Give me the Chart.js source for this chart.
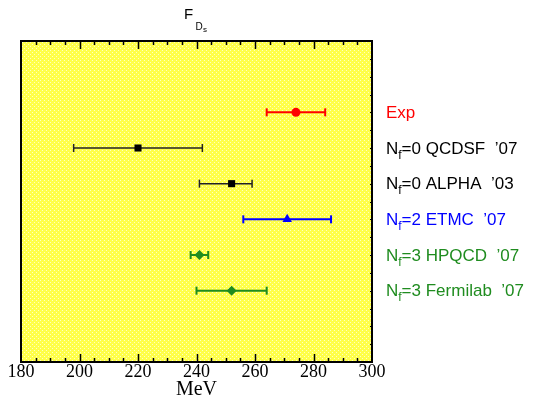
<!DOCTYPE html>
<html lang="en">
<head>
  <meta charset="UTF-8" />
  <title>F_Ds comparison</title>
  <script src="https://cdn.jsdelivr.net/npm/chart.js"></script>
  <style>
    body { margin: 0; background: #fff; }
    .wrap { width: 534px; height: 398px; }
  </style>
</head>
<body>
  <div class="wrap"><canvas id="fdsChart" width="534" height="398"></canvas></div>

<script>
  // values (MeV)
  const names = ['Exp', 'N_f=0 QCDSF  \u201907', 'N_f=0 ALPHA  \u201903', 'N_f=2 ETMC  \u201907', 'N_f=3 HPQCD  \u201907', 'N_f=3 Fermilab  \u201907'];
  const centers = [274, 220, 252, 271, 241, 252];
  const lows = [264, 198, 241, 256, 238, 240];
  const highs = [284, 242, 259, 286, 244, 264];
  const rows = [2, 3, 4, 5, 6, 7];
  const xTicks = [180, 200, 220, 240, 260, 280, 300];

  const colors = ['#ff0000', '#000000', '#000000', '#0000ff', '#1f8c1f', '#1f8c1f'];
  const markers = ['circle', 'rect', 'rect', 'triangle', 'rectRot', 'rectRot'];
  const markerSize = [4.5, 5, 5, 5.5, 5, 5];

  const datasets = [];
  names.forEach((n, i) => {
    datasets.push({
      label: n,
      data: [{ x: centers[i], y: rows[i] }],
      pointStyle: markers[i],
      pointRadius: markerSize[i],
      backgroundColor: colors[i],
      borderColor: colors[i],
      borderWidth: 0,
      showLine: false,
      order: 0
    });
    datasets.push({
      label: n + ' err',
      data: [{ x: lows[i], y: rows[i] }, { x: highs[i], y: rows[i] }],
      showLine: true,
      pointStyle: 'line',
      rotation: 90,
      pointRadius: 4,
      borderColor: colors[i] === '#000000' ? '#222' : colors[i],
      borderWidth: colors[i] === '#000000' ? 1.5 : 2,
      order: 1
    });
  });

  // dotted yellow fill like the original
  function makePattern(ctx) {
    const c = document.createElement('canvas');
    c.width = 4; c.height = 4;
    const p = c.getContext('2d');
    p.fillStyle = '#ffff48';
    p.fillRect(0, 0, 4, 4);
    p.fillStyle = '#ffffc0';
    p.fillRect(0, 0, 1, 1);
    p.fillRect(2, 2, 1, 1);
    return ctx.createPattern(c, 'repeat');
  }

  function drawSubText(ctx, str, x, y, size, color) {
    // "_f" means subscript f
    ctx.fillStyle = color;
    const parts = str.split(/_(\w)/);
    let cx = x;
    parts.forEach((part, k) => {
      if (!part) return;
      if (k % 2 === 1) {
        ctx.font = Math.round(size * 0.68) + 'px "Liberation Sans", Arial, sans-serif';
        ctx.fillText(part, cx, y + 5);
      } else {
        ctx.font = size + 'px "Liberation Sans", Arial, sans-serif';
        ctx.fillText(part, cx, y);
      }
      cx += ctx.measureText(part).width;
    });
  }

  const framePlugin = {
    id: 'frame',
    beforeDatasetsDraw(chart) {
      const { ctx, chartArea: a } = chart;
      ctx.save();
      ctx.fillStyle = makePattern(ctx);
      ctx.fillRect(a.left, a.top, a.right - a.left, a.bottom - a.top);
      ctx.restore();
    },
    afterDatasetsDraw(chart) {
      const { ctx, chartArea: a, scales } = chart;
      const xs = scales.x, ys = scales.y;
      ctx.save();
      ctx.strokeStyle = '#000';
      ctx.lineWidth = 1.5;
      ctx.beginPath();
      for (let v = 185; v < 300; v += 5) {
        const px = Math.round(xs.getPixelForValue(v)) + 0.5;
        const len = v % 20 === 0 ? 8 : 4;
        ctx.moveTo(px, a.bottom); ctx.lineTo(px, a.bottom - len);
        ctx.moveTo(px, a.top); ctx.lineTo(px, a.top + len);
      }
      ctx.stroke();
      ctx.lineWidth = 1;
      ctx.beginPath();
      for (let v = 0.5; v < 9; v += 0.5) {
        const py = Math.round(ys.getPixelForValue(v)) + 0.5;
        ctx.moveTo(a.right, py); ctx.lineTo(a.right - 2, py);
      }
      ctx.stroke();
      ctx.lineWidth = 2;
      ctx.strokeRect(a.left, a.top, a.right - a.left, a.bottom - a.top);

      // labels at the right
      ctx.textBaseline = 'alphabetic';
      ctx.textAlign = 'left';
      names.forEach((n, i) => {
        drawSubText(ctx, n, a.right + 14, ys.getPixelForValue(rows[i]) + 5.5, 17, colors[i]);
      });

      // title F_{D_s}
      ctx.fillStyle = '#000';
      ctx.font = '15px "Liberation Sans", Arial, sans-serif';
      ctx.fillText('F', 184, 19);
      ctx.font = '10px "Liberation Sans", Arial, sans-serif';
      ctx.fillText('D', 195.5, 29.5);
      ctx.font = '8px "Liberation Sans", Arial, sans-serif';
      ctx.fillText('s', 203, 31.5);
      ctx.restore();
    }
  };

  new Chart(document.getElementById('fdsChart'), {
    type: 'scatter',
    data: { datasets },
    options: {
      responsive: false,
      animation: false,
      layout: { padding: { left: 21, top: 41, right: 162, bottom: 0 } },
      plugins: { legend: { display: false }, tooltip: { enabled: false } },
      scales: {
        x: {
          type: 'linear',
          min: 180,
          max: 300,
          afterBuildTicks: (s) => { s.ticks = xTicks.map(v => ({ value: v })); },
          grid: { display: false, drawTicks: false },
          border: { display: false },
          ticks: {
            padding: 1,
            color: '#000',
            font: { family: '"Liberation Serif", "Times New Roman", serif', size: 18, lineHeight: 1 }
          },
          title: {
            display: true,
            text: 'MeV',
            color: '#000',
            padding: 0,
            font: { family: '"Liberation Serif", "Times New Roman", serif', size: 20, lineHeight: 0.8 }
          }
        },
        y: {
          type: 'linear',
          display: false,
          min: 0,
          max: 9,
          reverse: true
        }
      }
    },
    plugins: [framePlugin]
  });
</script>
</body>
</html>
